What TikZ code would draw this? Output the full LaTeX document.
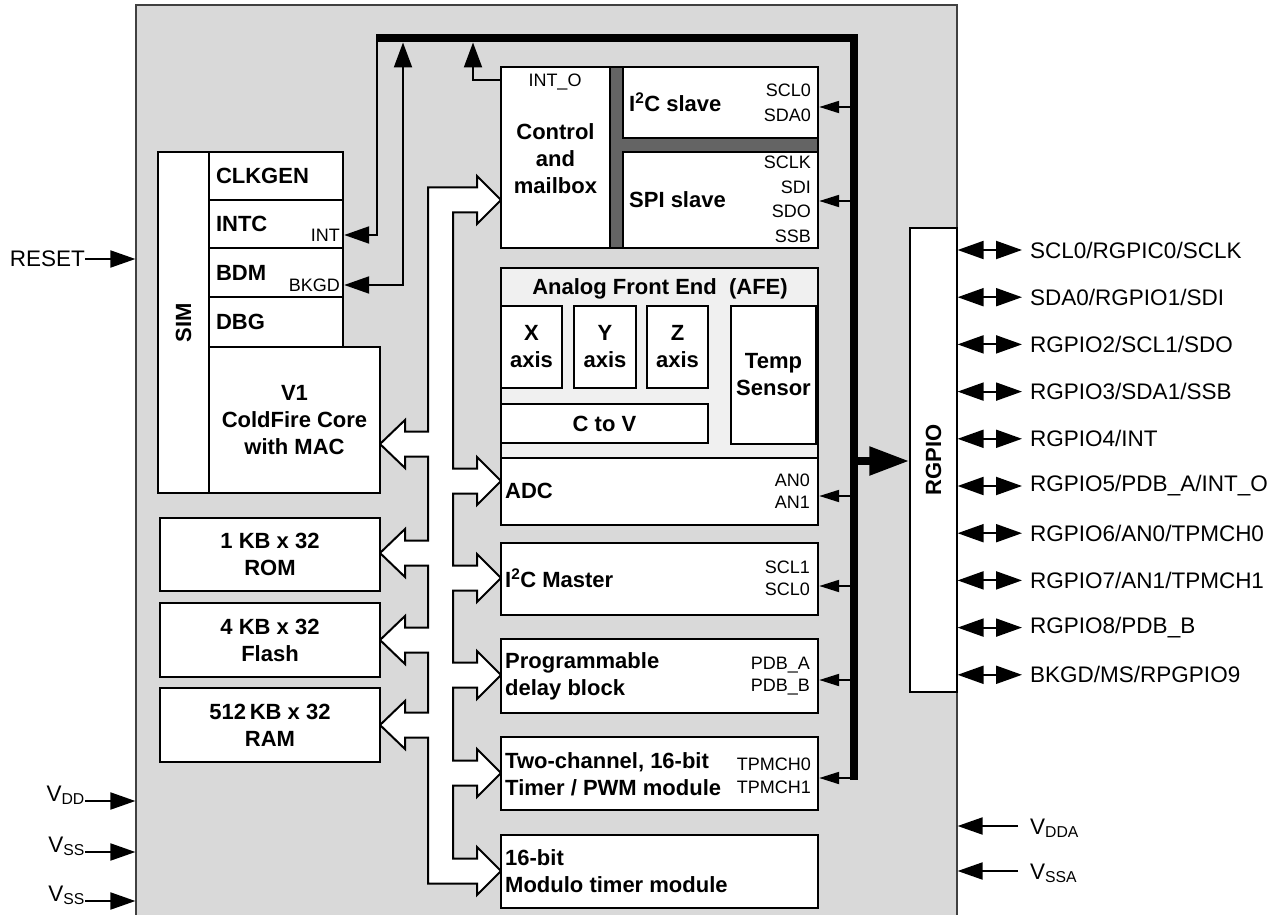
\documentclass[tikz,border=0pt]{standalone}
\usepackage{fontspec}
\setmainfont{Liberation Sans}
\usetikzlibrary{arrows.meta,fit}
\definecolor{bg}{RGB}{217,217,217}
\definecolor{afe}{RGB}{240,240,240}
\definecolor{dbar}{RGB}{100,100,100}
\newcommand\myB{\fontsize{22}{27}\selectfont\bfseries}
\newcommand\myS{\fontsize{18}{22}\selectfont}
\newcommand\myP{\fontsize{22.5}{27}\selectfont}
\begin{document}
\begin{tikzpicture}[x=1pt,y=-1pt,
  box/.style={draw, line width=2.4pt, fill=white, inner sep=0pt},
  wire/.style={line width=2pt},
  tipS/.style={-{Triangle[length=20pt,width=12pt]}},
  tipM/.style={-{Triangle[length=25pt,width=17pt]}},
  tipL/.style={-{Triangle[length=25pt,width=18pt]}},
  dtip/.style={{Triangle[length=26pt,width=18pt]}-{Triangle[length=26pt,width=18pt]}},
  lab/.style={font=\myB, inner sep=0pt},
  sml/.style={font=\myS, inner sep=0pt},
  pin/.style={font=\myP, inner sep=0pt}]
\path[use as bounding box] (0,0) rectangle (1278,915);
\clip (0,0) rectangle (1278,915);

% chip background
\node[fit={(136,5)(957,940)}, fill=bg, draw=black!75, line width=1.2pt, inner sep=0pt] (chip) {};

% hollow internal bus
\draw[line width=2pt, fill=white]
 (428,187.5) -- (477,187.5) -- (477,176) -- (501,200) -- (477,224) -- (477,212.5) -- (453,212.5)
 -- (453,468.5) -- (477,468.5) -- (477,457) -- (501,481) -- (477,505) -- (477,493.5) -- (453,493.5)
 -- (453,565.5) -- (477,565.5) -- (477,554) -- (501,578) -- (477,602) -- (477,590.5) -- (453,590.5)
 -- (453,662.5) -- (477,662.5) -- (477,651) -- (501,675) -- (477,699) -- (477,687.5) -- (453,687.5)
 -- (453,760.5) -- (477,760.5) -- (477,749) -- (501,773) -- (477,797) -- (477,785.5) -- (453,785.5)
 -- (453,858.5) -- (477,858.5) -- (477,847) -- (501,871) -- (477,895) -- (477,883.5) -- (428,883.5)
 -- (428,737.5) -- (405,737.5) -- (405,749) -- (380,725) -- (405,701) -- (405,712.5) -- (428,712.5)
 -- (428,652.5) -- (405,652.5) -- (405,664) -- (380,640) -- (405,616) -- (405,627.5) -- (428,627.5)
 -- (428,565.5) -- (405,565.5) -- (405,577) -- (380,553) -- (405,529) -- (405,540.5) -- (428,540.5)
 -- (428,456.5) -- (405,456.5) -- (405,468) -- (380,444) -- (405,420) -- (405,431.5) -- (428,431.5)
 -- cycle;

% SIM and core
\node[box, fit={(158,152)(209,493)}] (sim) {};
\node[lab, rotate=90] at (sim.center) {SIM};
\node[box, fit={(209,152)(343,200)}] (clkgen) {};
\node[box, fit={(209,200)(343,248)}] (intc) {};
\node[box, fit={(209,248)(343,297)}] (bdm) {};
\node[box, fit={(209,297)(343,347)}] (dbg) {};
\node[lab, anchor=west] at ([xshift=8pt]clkgen.west) {CLKGEN};
\node[lab, anchor=west] at ([xshift=8pt]intc.west) {INTC};
\node[lab, anchor=west] at ([xshift=8pt]bdm.west) {BDM};
\node[lab, anchor=west] at ([xshift=8pt]dbg.west) {DBG};
\node[sml, anchor=east] at (340,235) {INT};
\node[sml, anchor=east] at (340,285) {BKGD};
\node[box, fit={(209,347)(380,493)}] (core) {};
\node[lab, align=center] at (core.center) {V1\\ColdFire Core\\with MAC};

% memories
\node[box, fit={(160,518)(380,591)}] (rom) {};
\node[lab, align=center] at (rom.center) {1 KB x 32\\ROM};
\node[box, fit={(160,603)(380,677)}] (flash) {};
\node[lab, align=center] at (flash.center) {4 KB x 32\\Flash};
\node[box, fit={(160,688)(380,762)}] (ram) {};
\node[lab, align=center] at (ram.center) {512\,KB x 32\\RAM};

% control and slaves
\node[fit={(610,67)(818,248)}, fill=dbar, draw, line width=2.4pt, inner sep=0pt] (dbarbox) {};
\node[box, fit={(501,67)(610,248)}] (ctrl) {};
\node[lab, align=center] at ([yshift=-1pt]ctrl.center) {Control\\and\\mailbox};
\node[sml] at (555,82) {INT\_O};
\node[box, fit={(623,67)(818,138)}] (i2cs) {};
\node[box, fit={(623,152)(818,248)}] (spis) {};
\node[lab, anchor=west] at (629,102) {I\textsuperscript{2}C slave};
\node[lab, anchor=west] at (629,200) {SPI slave};
\node[sml, anchor=east] at (811,90) {SCL0};
\node[sml, anchor=east] at (811,115) {SDA0};
\node[sml, anchor=east] at (811,162) {SCLK};
\node[sml, anchor=east] at (811,187) {SDI};
\node[sml, anchor=east] at (811,211) {SDO};
\node[sml, anchor=east] at (811,236) {SSB};

% AFE
\node[box, fill=afe, fit={(501,268)(818,458)}] (afe) {};
\node[lab] at (660,289) {Analog Front End~~(AFE)};
\node[box, fit={(501,306)(562,388)}] (xax) {};
\node[lab, align=center] at (xax.center) {X\\axis};
\node[box, fit={(574,306)(636,388)}] (yax) {};
\node[lab, align=center] at (yax.center) {Y\\axis};
\node[box, fit={(647,306)(708,388)}] (zax) {};
\node[lab, align=center] at (zax.center) {Z\\axis};
\node[box, fit={(731,306)(816,444)}] (temp) {};
\node[lab, align=center] at (temp.center) {Temp\\Sensor};
\node[box, fit={(501,404)(708,443)}] (ctov) {};
\node[lab] at (ctov.center) {C to V};

% peripherals
\node[box, fit={(501,458)(818,525)}] (adc) {};
\node[lab, anchor=west] at (505,491) {ADC};
\node[sml, anchor=east] at (810,480) {AN0};
\node[sml, anchor=east] at (810,502) {AN1};
\node[box, fit={(501,543)(818,615)}] (i2cm) {};
\node[lab, anchor=west] at (505,578) {I\textsuperscript{2}C Master};
\node[sml, anchor=east] at (810,567) {SCL1};
\node[sml, anchor=east] at (810,589) {SCL0};
\node[box, fit={(501,639)(818,713)}] (pdb) {};
\node[lab, anchor=west, align=left] at (505,676) {Programmable\\delay block};
\node[sml, anchor=east] at (810,665) {PDB\_A};
\node[sml, anchor=east] at (810,687) {PDB\_B};
\node[box, fit={(501,737)(818,810)}] (tpm) {};
\node[lab, anchor=west, align=left] at (505,774) {Two-channel, 16-bit\\Timer / PWM module};
\node[sml, anchor=east] at (811,764) {TPMCH0};
\node[sml, anchor=east] at (811,787) {TPMCH1};
\node[box, fit={(501,835)(818,908)}] (mod) {};
\node[lab, anchor=west, align=left] at (505,871) {16-bit\\Modulo timer module};

% RGPIO
\node[draw, line width=1.2pt, fill=white, inner sep=0pt, fit={(910,228)(957,692)}] (rgpio) {};
\node[lab, rotate=90] at (rgpio.center) {RGPIO};

% thick bus
\coordinate (bL) at (376,38.5);
\coordinate (bC) at (853.5,38.5);
\coordinate (bB) at (853.5,780);
\draw[line width=8pt] (bL) -- (bC) -- (bB);
\draw[line width=8pt, -{Triangle[length=40pt,width=27pt]}] (853.5,461) -- (rgpio.west |- 0,461);

% connections to bus
\draw[wire, tipM] (377,38.5) -- (377,235) -- (intc.east |- 0,235);
\draw[wire, {Triangle[length=25pt,width=17pt]}-{Triangle[length=25pt,width=18pt]}] (bdm.east |- 0,285) -- (403,285) -- (403,42.5);
\draw[wire, tipL] (ctrl.west |- 0,80) -- (473,80) -- (473,42.5);
\draw[wire, tipS] (853.5,107) -- (i2cs.east |- 0,107);
\draw[wire, tipS] (853.5,201) -- (spis.east |- 0,201);
\draw[wire, tipS] (853.5,496) -- (adc.east |- 0,496);
\draw[wire, tipS] (853.5,586) -- (i2cm.east |- 0,586);
\draw[wire, tipS] (853.5,680) -- (pdb.east |- 0,680);
\draw[wire, tipS] (857,778) -- (tpm.east |- 0,778);

% left external pins
\node[pin, anchor=east] (reset) at (85,259) {RESET};
\draw[wire, tipM] (reset.east) -- (chip.west |- reset.east);
\node[pin, anchor=base east] (vdd) at (85,801) {V\textsubscript{DD}};
\draw[wire, tipM] (vdd.base east) -- (chip.west |- vdd.base east);
\node[pin, anchor=base east] (vssa1) at (85,852) {V\textsubscript{SS}};
\draw[wire, tipM] (vssa1.base east) -- (chip.west |- vssa1.base east);
\node[pin, anchor=base east] (vssb1) at (85,901) {V\textsubscript{SS}};
\draw[wire, tipM] (vssb1.base east) -- (chip.west |- vssb1.base east);

% right external pins
\foreach \i/\t in {0/{SCL0/RGPIC0/SCLK}, 1/{SDA0/RGPIO1/SDI}, 2/{RGPIO2/SCL1/SDO}, 3/{RGPIO3/SDA1/SSB},
  4/{RGPIO4/INT}, 5/{RGPIO5/PDB\_A/INT\_O}, 6/{RGPIO6/AN0/TPMCH0}, 7/{RGPIO7/AN1/TPMCH1},
  8/{RGPIO8/PDB\_B}, 9/{BKGD/MS/RPGPIO9}}{
  \node[pin, anchor=west] (p\i) at (1030,250+47.2*\i) {\t};
  \draw[wire, dtip] (rgpio.east |- p\i.west) -- ([xshift=-8pt]p\i.west);
}
\node[pin, anchor=base west] (vdda) at (1030,834) {V\textsubscript{DDA}};
\draw[wire, tipM] (1018,826) -- (chip.east |- 0,826);
\node[pin, anchor=base west] (vssa) at (1030,879) {V\textsubscript{SSA}};
\draw[wire, tipM] (1018,871) -- (chip.east |- 0,871);
\end{tikzpicture}
\end{document}
